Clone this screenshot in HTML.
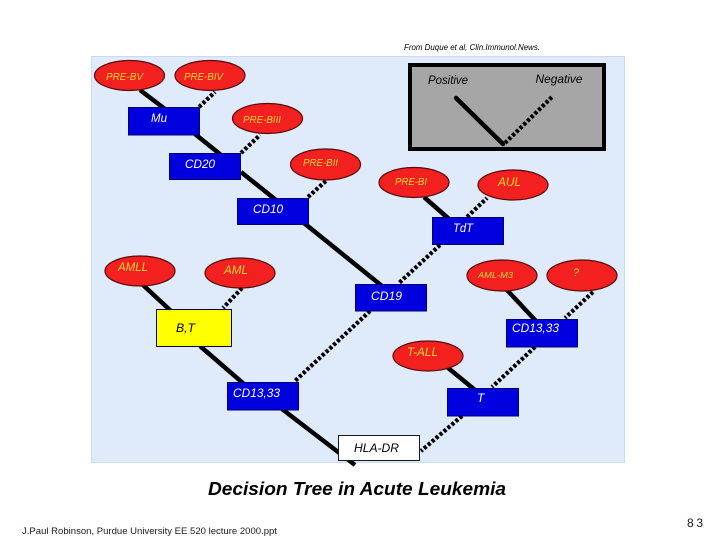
<!DOCTYPE html>
<html lang="en">
<head>
<meta charset="utf-8">
<title>Decision Tree in Acute Leukemia</title>
<style>
html,body{margin:0;padding:0;background:#fff;}
svg{display:block;}
text{font-family:"Liberation Sans",sans-serif;font-style:italic;}
.w{fill:#fff;font-size:12px;}
.y{fill:#ffd83a;font-size:10px;}
.k{fill:#000;font-size:12px;}
.s{stroke:#000;stroke-width:4.500;fill:none;}
.d{stroke:#000;stroke-width:4.200;stroke-dasharray:3.200 2;fill:none;}
.e{fill:#f2201e;stroke:#5a0a0e;stroke-width:1.200;}
.b{fill:#0000de;stroke:#00006e;stroke-width:1;}
</style>
</head>
<body>
<svg width="720" height="540" viewBox="0 0 720 540" xmlns="http://www.w3.org/2000/svg">
<rect x="91.500" y="56.500" width="533" height="406" fill="#dfeafb" stroke="#cbdaec"/>
<text x="404" y="50" font-size="8" textLength="136" lengthAdjust="spacingAndGlyphs" fill="#000">From Duque et al, Clin.Immunol.News.</text>

<!-- legend -->
<rect x="410" y="65" width="194" height="84" fill="#a6a6a6" stroke="#000" stroke-width="4"/>
<text class="k" x="428" y="84" textLength="40" lengthAdjust="spacingAndGlyphs">Positive</text>
<text class="k" x="535.500" y="83" textLength="47" lengthAdjust="spacingAndGlyphs">Negative</text>
<line class="s" x1="456" y1="98" x2="503" y2="144" stroke-linecap="round"/>
<line class="d" x1="505" y1="143" x2="552" y2="97"/>

<!-- connectors -->
<line class="s" x1="140" y1="90" x2="165" y2="109"/>
<line class="d" x1="199" y1="107" x2="215" y2="92"/>
<line class="s" x1="195" y1="134" x2="221" y2="155"/>
<line class="d" x1="241" y1="153" x2="260" y2="135"/>
<line class="s" x1="241" y1="172" x2="276" y2="200"/>
<line class="d" x1="308" y1="197" x2="327" y2="180"/>
<line class="s" x1="304" y1="223" x2="382" y2="286"/>
<line class="s" x1="424" y1="197" x2="449" y2="219"/>
<line class="d" x1="467" y1="217" x2="487" y2="198"/>
<line class="d" x1="440" y1="245" x2="399" y2="283"/>
<line class="d" x1="370" y1="311" x2="295" y2="381"/>
<line class="s" x1="143" y1="285" x2="171" y2="311"/>
<line class="d" x1="242" y1="288" x2="223" y2="308"/>
<line class="s" x1="200" y1="346" x2="244" y2="384"/>
<line class="s" x1="282" y1="409" x2="355" y2="465"/>
<line class="s" x1="507" y1="290" x2="536" y2="321"/>
<line class="d" x1="593" y1="292" x2="565" y2="318"/>
<line class="d" x1="535" y1="347" x2="492" y2="387"/>
<line class="s" x1="447" y1="367" x2="475" y2="390"/>
<line class="d" x1="462" y1="416" x2="421" y2="451"/>

<!-- red nodes -->
<ellipse class="e" cx="129.500" cy="75.500" rx="35" ry="15"/>
<ellipse class="e" cx="210" cy="75.500" rx="35" ry="15"/>
<ellipse class="e" cx="267.500" cy="118.500" rx="35" ry="15"/>
<ellipse class="e" cx="325.500" cy="164.500" rx="35" ry="15.500"/>
<ellipse class="e" cx="414" cy="182.500" rx="35" ry="15"/>
<ellipse class="e" cx="513" cy="185" rx="35" ry="15"/>
<ellipse class="e" cx="140" cy="271" rx="35" ry="15"/>
<ellipse class="e" cx="240" cy="273" rx="35" ry="15"/>
<ellipse class="e" cx="502" cy="275.500" rx="35" ry="15.500"/>
<ellipse class="e" cx="582" cy="275.500" rx="35" ry="15.500"/>
<ellipse class="e" cx="428" cy="356" rx="35" ry="15"/>

<!-- boxes -->
<rect class="b" x="128.500" y="107.500" width="71" height="27.500"/>
<rect class="b" x="169.500" y="153.500" width="71" height="26"/>
<rect class="b" x="237.500" y="198.500" width="71" height="26"/>
<rect class="b" x="432.500" y="217.500" width="71" height="27"/>
<rect class="b" x="355.500" y="284.500" width="71" height="26.500"/>
<rect x="156.500" y="309.500" width="75" height="37" fill="#ffff00" stroke="#00006e"/>
<rect class="b" x="506.500" y="319.500" width="71" height="27.500"/>
<rect class="b" x="227.500" y="382.500" width="71" height="27.500"/>
<rect class="b" x="447.500" y="388.500" width="71" height="27.500"/>
<rect x="338.500" y="435.500" width="81" height="25" fill="#fff" stroke="#1a1a1a"/>

<!-- red node labels -->
<text class="y" x="106" y="80" textLength="37" lengthAdjust="spacingAndGlyphs">PRE-BV</text>
<text class="y" x="184" y="80" textLength="39" lengthAdjust="spacingAndGlyphs">PRE-BIV</text>
<text class="y" x="243" y="123" textLength="38" lengthAdjust="spacingAndGlyphs">PRE-BIII</text>
<text class="y" x="303" y="166" textLength="35" lengthAdjust="spacingAndGlyphs">PRE-BII</text>
<text class="y" x="395" y="185" textLength="32" lengthAdjust="spacingAndGlyphs">PRE-BI</text>
<text class="y" x="498" y="186" style="font-size:12px" textLength="23" lengthAdjust="spacingAndGlyphs">AUL</text>
<text class="y" x="118" y="271" style="font-size:12px" textLength="30" lengthAdjust="spacingAndGlyphs">AMLL</text>
<text class="y" x="224" y="274" style="font-size:12px" textLength="24" lengthAdjust="spacingAndGlyphs">AML</text>
<text class="y" x="478" y="278" style="font-size:8.500px" textLength="35" lengthAdjust="spacingAndGlyphs">AML-M3</text>
<text class="y" x="573" y="276" style="font-size:11px">?</text>
<text class="y" x="407" y="356" style="font-size:12px" textLength="31" lengthAdjust="spacingAndGlyphs">T-ALL</text>

<!-- box labels -->
<text class="w" x="151" y="122" textLength="16" lengthAdjust="spacingAndGlyphs">Mu</text>
<text class="w" x="185" y="168" textLength="30" lengthAdjust="spacingAndGlyphs">CD20</text>
<text class="w" x="253" y="213" textLength="30" lengthAdjust="spacingAndGlyphs">CD10</text>
<text class="w" x="453" y="232" textLength="20" lengthAdjust="spacingAndGlyphs">TdT</text>
<text class="w" x="371" y="300" textLength="31" lengthAdjust="spacingAndGlyphs">CD19</text>
<text class="k" x="176" y="332" textLength="19" lengthAdjust="spacingAndGlyphs">B,T</text>
<text class="w" x="512" y="332" textLength="47" lengthAdjust="spacingAndGlyphs">CD13,33</text>
<text class="w" x="233" y="397" textLength="47" lengthAdjust="spacingAndGlyphs">CD13,33</text>
<text class="w" x="477" y="402">T</text>
<text class="k" x="354" y="452" textLength="45" lengthAdjust="spacingAndGlyphs">HLA-DR</text>

<!-- footer -->
<text x="208" y="495" font-size="18" font-weight="bold" textLength="298" lengthAdjust="spacingAndGlyphs" fill="#000">Decision Tree in Acute Leukemia</text>
<text x="22" y="534" font-size="9.500" style="font-style:normal" textLength="255" lengthAdjust="spacingAndGlyphs" fill="#1a1a1a">J.Paul Robinson, Purdue University  EE 520 lecture 2000.ppt</text>
<text x="687" y="527" font-size="12" style="font-style:normal" textLength="16" fill="#1a1a1a">83</text>
</svg>
</body>
</html>
